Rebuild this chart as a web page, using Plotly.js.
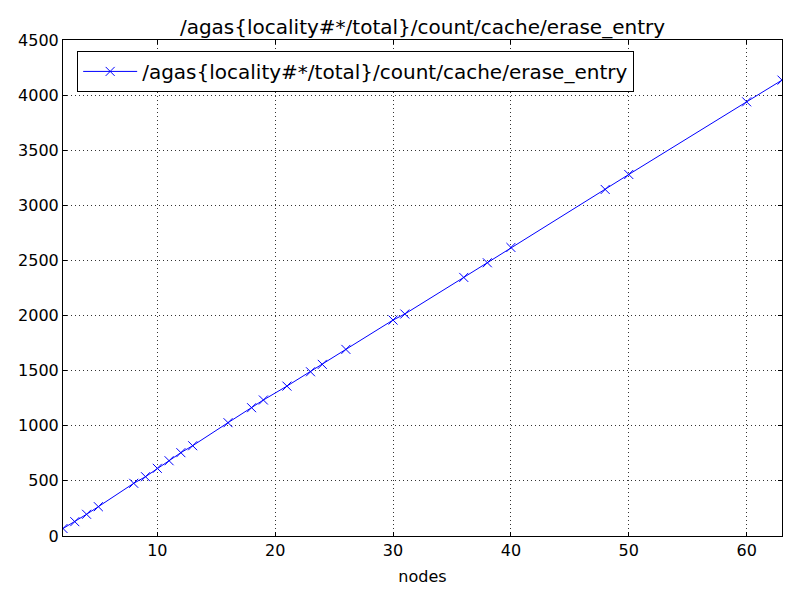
<!DOCTYPE html>
<html>
<head>
<meta charset="utf-8">
<script src="https://cdn.plot.ly/plotly-3.0.1.min.js"></script>
<style>
  body { margin: 0; background: #fff; }
  #plot { width: 800px; height: 600px; }
</style>
</head>
<body>
<div id="plot"></div>
<script>
//Values
var counterName = '/agas{locality#*/total}/count/cache/erase_entry';
var nodes = [2, 3, 4, 5, 8, 9, 10, 11, 12, 13, 16, 18, 19, 21, 23, 24, 26, 30, 31, 36, 38, 40, 48, 50, 60, 63];
var eraseCount = [68, 130, 197, 266, 478, 538, 614, 683, 756, 819, 1028, 1164, 1234, 1360, 1490, 1557, 1693, 1959, 2014, 2346, 2479, 2618, 3144, 3280, 3939, 4136];
var xTicks = [10, 20, 30, 40, 50, 60];
var yTicks = [0, 500, 1000, 1500, 2000, 2500, 3000, 3500, 4000, 4500];

//Builds the plot in the style of a classic matplotlib figure
function initializePlot() {
    var data = {
        x: nodes,
        y: eraseCount,
        name: counterName,
        type: 'scatter',
        mode: 'lines+markers',
        cliponaxis: true,
        line: {
            color: '#0000ff',
            width: 1
        },
        marker: {
            symbol: 'x-thin',
            size: 9,
            color: '#0000ff',
            line: { color: '#0000ff', width: 1 }
        }
    };

    var axisStyle = {
        showline: true,
        linecolor: '#000',
        linewidth: 1,
        mirror: 'ticks',
        ticks: 'inside',
        ticklen: 4,
        tickcolor: '#000',
        showgrid: true,
        gridcolor: '#333',
        griddash: '1px,3px',
        gridwidth: 1,
        zeroline: false,
        tickfont: { family: 'DejaVu Sans', size: 16, color: '#000' }
    };

    var layout = {
        width: 800,
        height: 600,
        paper_bgcolor: '#fff',
        plot_bgcolor: '#fff',
        margin: { l: 63, r: 18, t: 40, b: 64 },
        font: { family: 'DejaVu Sans', color: '#000' },
        title: {
            text: counterName,
            font: { family: 'DejaVu Sans', size: 20, color: '#000' },
            xref: 'paper',
            x: 0.5,
            xanchor: 'center',
            y: 0.955,
            yanchor: 'middle'
        },
        xaxis: Object.assign({}, axisStyle, {
            range: [2, 63],
            tickvals: xTicks,
            title: {
                text: 'nodes',
                font: { family: 'DejaVu Sans', size: 16, color: '#000' },
                standoff: 11
            }
        }),
        yaxis: Object.assign({}, axisStyle, {
            range: [0, 4500],
            tickvals: yTicks
        }),
        showlegend: true,
        legend: {
            x: 0.0197,
            y: 0.978,
            xanchor: 'left',
            yanchor: 'top',
            bgcolor: '#fff',
            bordercolor: '#000',
            borderwidth: 1,
            font: { family: 'DejaVu Sans', size: 20, color: '#000' },
            itemwidth: 54
        }
    };

    Plotly.newPlot('plot', [data], layout, { staticPlot: true });
}

document.addEventListener('DOMContentLoaded', function() {
    initializePlot();
});
</script>
</body>
</html>
